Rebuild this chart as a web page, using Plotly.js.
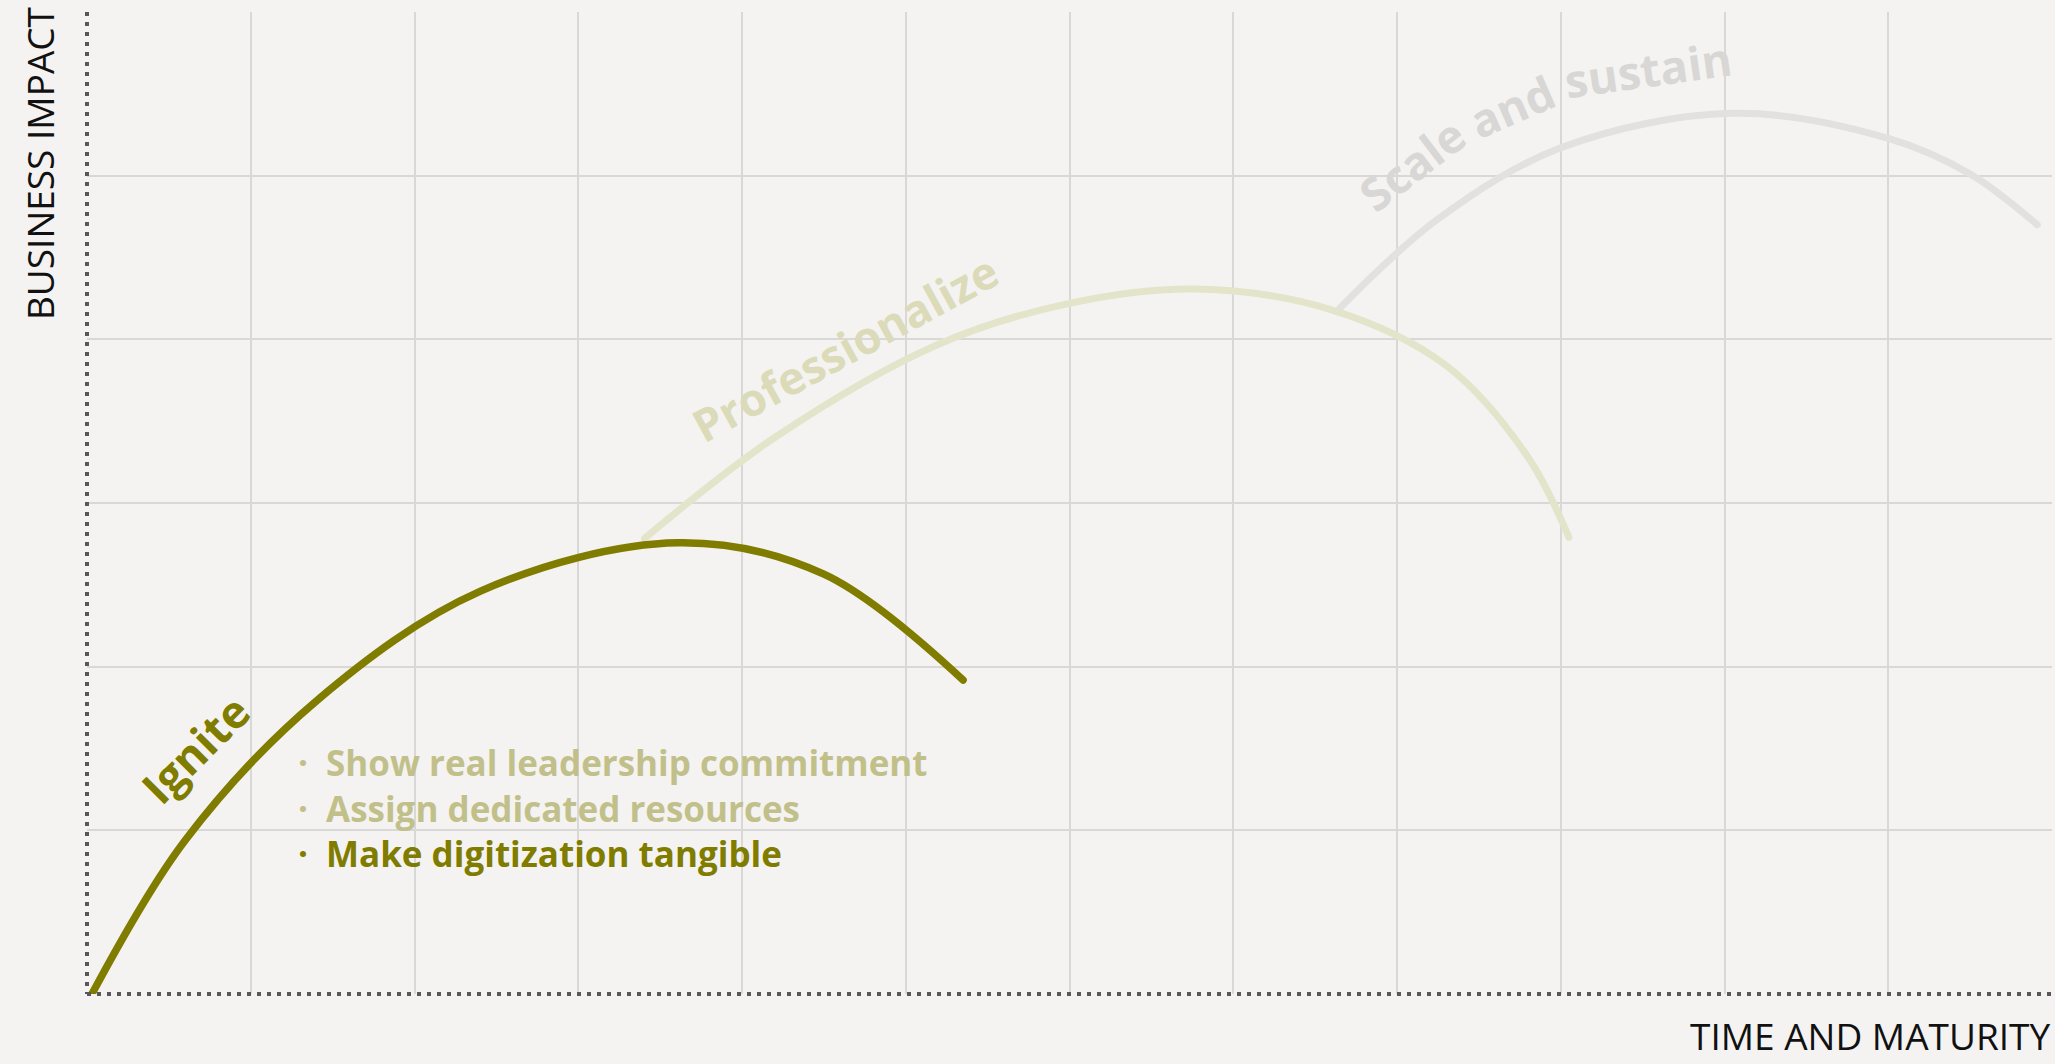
<!DOCTYPE html>
<html>
<head>
<meta charset="utf-8">
<script src="https://cdn.plot.ly/plotly-3.0.1.min.js"></script>
<style>
  html, body { margin: 0; padding: 0; background: #f4f3f1; }
  #chart { width: 2055px; height: 1064px; }
  path.js-line { stroke-linecap: round; stroke-linejoin: round; }
</style>
</head>
<body>
<div id="chart"></div>
<script>
// ---- data ----
const igniteX = [0.03, 0.6, 1.4, 2.4, 3.61, 4.5, 5.35];
const igniteY = [0.0, 0.94, 1.79, 2.46, 2.757, 2.565, 1.918];

const profX = [3.405, 4.2, 5.2, 6.0, 6.77, 7.6, 8.3, 8.8, 9.05];
const profY = [2.784, 3.40, 3.97, 4.22, 4.307, 4.18, 3.84, 3.28, 2.79];

const scaleX = [7.65, 8.25, 9.0, 10.05, 11.0, 11.5, 11.91];
const scaleY = [4.19, 4.735, 5.17, 5.381, 5.228, 5.01, 4.70];

const stageLabels = ['Ignite', 'Professionalize', 'Scale and sustain'];
const bullets = ['Show real leadership commitment', 'Assign dedicated resources', 'Make digitization tangible'];
const axisTitles = ['TIME AND MATURITY', 'BUSINESS IMPACT'];

// ---- styles ----
const OLIVE = '#7f7c00';
const OLIVE_LIGHT = '#c2c08a';
const PROF_LINE = '#e4e4cb';
const PROF_TEXT = '#dcdbb9';
const SCALE_LINE = '#e2e1df';
const SCALE_TEXT = '#d8d7d5';
const BG = '#f4f3f1';
const FONT = 'Open Sans, Noto Sans, sans-serif';

const traces = [
  { x: scaleX, y: scaleY, mode: 'lines', line: { color: SCALE_LINE, width: 7, shape: 'spline', smoothing: 1 }, hoverinfo: 'skip' },
  { x: profX, y: profY, mode: 'lines', line: { color: PROF_LINE, width: 7, shape: 'spline', smoothing: 1 }, hoverinfo: 'skip' },
  { x: igniteX, y: igniteY, mode: 'lines', line: { color: OLIVE, width: 7.5, shape: 'spline', smoothing: 1 }, hoverinfo: 'skip' }
];

function bold(size, color) { return { family: FONT, size: size, color: color, weight: 700 }; }

const annotations = [];
// stage labels
annotations.push({ x: 0.66, y: 1.50, xref: 'x', yref: 'y', text: stageLabels[0], showarrow: false,
  textangle: -45, font: bold(45, OLIVE) });
annotations.push({ x: 4.63, y: 3.95, xref: 'x', yref: 'y', text: stageLabels[1], showarrow: false,
  textangle: -28.5, font: bold(45, PROF_TEXT) });
// "Scale and sustain" follows an arc: place word by word
const scaleWords = stageLabels[2].split(' ');
const wordPos = [[8.09, 5.07, -37.3], [8.70, 5.428, -23.5], [9.532, 5.654, -8]];
scaleWords.forEach((w, i) => {
  annotations.push({ x: wordPos[i][0], y: wordPos[i][1], xref: 'x', yref: 'y', text: w, showarrow: false,
    textangle: wordPos[i][2], font: bold(46, SCALE_TEXT) });
});
// bullets
const bulletY = [1.417, 1.136, 0.861];
bullets.forEach((b, i) => {
  const c = i === bullets.length - 1 ? OLIVE : OLIVE_LIGHT;
  annotations.push({ x: 1.32, y: bulletY[i], xref: 'x', yref: 'y', text: '·', showarrow: false,
    xanchor: 'center', yanchor: 'middle', font: bold(35, c) });
  annotations.push({ x: 1.45, y: bulletY[i], xref: 'x', yref: 'y', text: b, showarrow: false,
    xanchor: 'left', yanchor: 'middle', font: bold(35, c) });
});
// axis titles
annotations.push({ x: 1.0, y: 1.0, xref: 'paper', yref: 'paper', yshift: -1051, text: axisTitles[0], showarrow: false,
  xanchor: 'right', yanchor: 'bottom', font: { family: FONT, size: 37, color: '#111111' } });
annotations.push({ x: -0.0245, y: 0.846, xref: 'paper', yref: 'paper', text: axisTitles[1], showarrow: false,
  xanchor: 'center', yanchor: 'middle', textangle: -90, font: { family: FONT, size: 37, color: '#111111' } });

const axisCommon = {
  showgrid: true, gridcolor: '#d9d8d6', gridwidth: 2,
  showticklabels: false, ticks: '', zeroline: false, showline: false, fixedrange: true,
  tick0: 0, dtick: 1
};

const layout = {
  width: 2055, height: 1064,
  margin: { l: 87, r: 3, t: 12, b: 70, pad: 0 },
  paper_bgcolor: BG, plot_bgcolor: BG,
  showlegend: false,
  xaxis: Object.assign({ range: [0, 12] }, axisCommon),
  yaxis: Object.assign({ range: [0, 6] }, axisCommon),
  shapes: [
    { type: 'line', xref: 'paper', yref: 'paper', x0: 0, x1: 0, y0: 1, y1: 0, layer: 'above',
      line: { color: '#58585a', width: 4, dash: '4px,6px' } },
    { type: 'line', xref: 'paper', yref: 'paper', x0: 0, x1: 1, y0: 0, y1: 0, layer: 'above',
      line: { color: '#58585a', width: 4, dash: '4px,6px' } }
  ],
  annotations: annotations
};

Plotly.newPlot('chart', traces, layout, { staticPlot: true, displayModeBar: false });
</script>
</body>
</html>
